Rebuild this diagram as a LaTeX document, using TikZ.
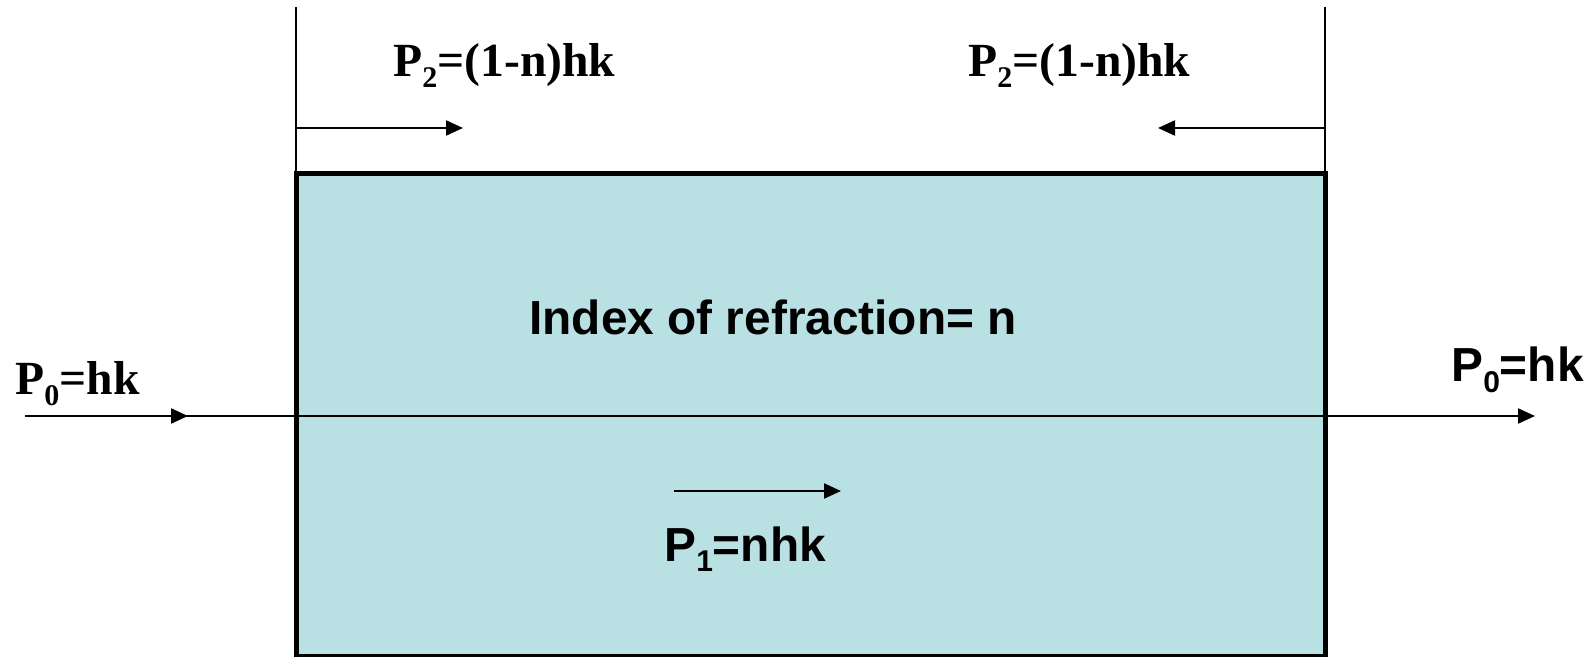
\documentclass[tikz,border=0pt]{standalone}
\usepackage{fontspec}
\setmainfont{Liberation Serif}
\setsansfont{Liberation Sans}
\usepackage{xcolor}
\usepackage{tikz}
\usetikzlibrary{arrows.meta}
\definecolor{slabcyan}{HTML}{B9E0E3}
\newcommand{\lowix}[1]{\raisebox{-0.22em}{\fontsize{15}{15}\selectfont #1}}

\begin{document}
\begin{tikzpicture}[x=0.5pt, y=-0.5pt, >={Triangle[length=8.5pt,width=7.5pt]},
  serlab/.style={anchor=base west, inner sep=0pt, font=\fontsize{23.8}{28}\selectfont\bfseries},
  sanlab/.style={anchor=base west, inner sep=0pt, font=\fontsize{23.9}{28}\selectfont\sffamily\bfseries}]
  \useasboundingbox (0,0) rectangle (1595,657);
  % slab of glass
  \draw[fill=slabcyan, line width=2.5pt] (296,174) rectangle (1325,656);
  \draw[line width=0.9pt] (296,7) -- (296,174);
  \draw[line width=0.9pt] (1325,7) -- (1325,174);
  % momentum arrows
  \draw[->, line width=1.1pt] (296,128) -- (463,128);
  \draw[->, line width=1.1pt] (1325,128) -- (1158,128);
  \draw[->, line width=1.1pt] (25,416) -- (188,416);
  \draw[->, line width=1.1pt] (165,416) -- (1535,416);
  \draw[->, line width=1.1pt] (674,491) -- (841,491);
  % labels
  \node[serlab] (p0in) at (15,395) {P\lowix{0}=hk};
  \node[serlab] (p2l) at (393,77) {P\lowix{2}=(1-n)hk};
  \node[serlab] (p2r) at (968,77) {P\lowix{2}=(1-n)hk};
  \node[sanlab] (index) at (529,335) {Index of refraction= n};
  \node[sanlab] (p0out) at (1451,382) {P\lowix{0}=hk};
  \node[sanlab] (p1) at (664,561) {P\lowix{1}=nhk};
\end{tikzpicture}
\end{document}
